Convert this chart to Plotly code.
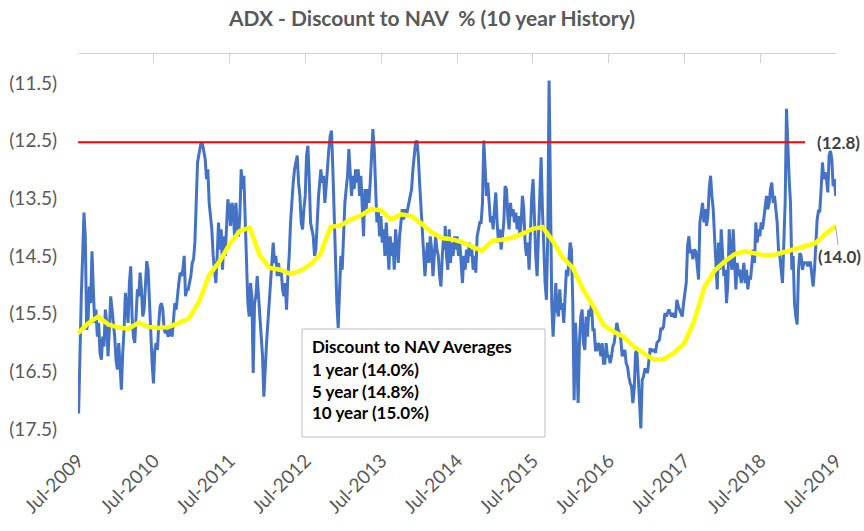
import pandas as pd
import plotly.graph_objects as go

# ---- data (discount to NAV, %; shown in parentheses) ----
seg1_start, seg1_end = "2009-07-04", "2011-01-28"
seg1 = [17.23, 16.07, 15.20, 14.50, 13.75, 14.16, 15.78, 15.66, 15.03, 15.32,
        14.42, 15.08, 15.66, 15.43, 15.90, 15.66, 16.18, 16.30, 15.90, 16.07,
        15.43, 15.66, 16.24, 15.78, 15.20, 15.43, 15.66, 15.90, 16.30, 16.47,
        16.01, 16.36, 16.82, 16.18, 15.78, 15.14, 15.43, 15.66, 14.97, 14.68,
        15.55, 15.90, 16.01, 15.55, 15.08, 15.20, 14.79, 15.08, 15.55, 15.43,
        14.85, 14.59, 14.74, 15.32, 15.78, 16.36, 16.71, 16.13, 16.01, 16.13,
        15.66, 15.37, 15.32, 15.43, 15.78, 15.84, 15.78, 15.90, 15.84, 15.72,
        15.90, 15.55, 15.32, 15.43, 15.14, 14.97, 14.79, 14.85, 14.74, 14.50,
        15.20, 15.08, 15.08, 14.97, 14.85, 14.62, 14.56, 14.27, 13.58, 12.88]
seg2_start, seg2_end = "2011-02-08", "2012-09-02"
seg2 = [12.65, 12.53, 12.56, 12.68, 12.82, 13.17, 13.00, 13.58, 13.81, 14.04,
        14.50, 14.74, 14.97, 14.50, 13.92, 14.39, 14.04, 14.74, 14.16, 14.50,
        13.87, 13.52, 13.69, 13.98, 13.58, 13.69, 14.16, 13.58, 13.92, 14.16,
        13.81, 13.00, 13.34, 13.11, 13.87, 14.50, 15.32, 15.55, 14.97, 15.20,
        16.53, 15.32, 15.20, 14.85, 15.20, 15.43, 15.90, 16.24, 16.94, 16.36,
        16.01, 15.66, 15.32, 14.97, 14.50, 14.27, 14.62, 14.50, 14.85, 14.62,
        14.85, 14.74, 15.08, 15.20, 14.97, 15.43, 14.85, 14.50, 13.92, 13.46,
        13.23, 13.00, 12.88, 12.76, 13.23, 13.46, 13.92, 14.04, 13.69, 13.46,
        12.76, 12.59, 13.17, 13.92, 14.04, 14.16, 14.50, 14.39, 13.92, 13.46]
seg3_start, seg3_end = "2012-09-13", "2014-05-04"
seg3 = [13.00, 13.23, 13.11, 13.58, 13.29, 12.88, 12.65, 12.42, 12.33, 13.00,
        13.92, 14.62, 15.32, 15.75, 15.20, 14.50, 14.74, 14.04, 13.58, 13.34,
        13.11, 12.65, 13.00, 13.46, 13.11, 13.34, 13.00, 13.23, 13.00, 13.46,
        13.11, 13.81, 14.16, 13.34, 13.69, 13.34, 13.58, 13.23, 12.65, 12.30,
        12.65, 13.23, 13.92, 13.69, 14.16, 13.81, 14.27, 14.04, 14.50, 13.92,
        14.39, 14.74, 14.16, 14.50, 14.27, 14.74, 14.04, 14.39, 14.62, 14.16,
        13.92, 13.69, 13.87, 13.69, 13.81, 13.69, 13.58, 13.46, 13.34, 13.00,
        12.76, 12.53, 12.50, 12.76, 13.23, 13.69, 14.16, 14.62, 14.85, 14.50,
        14.27, 14.62, 14.16, 14.39, 14.85, 14.50, 14.16, 14.39, 14.50, 14.85,
        15.03, 14.50, 14.16, 14.39]
seg4_start, seg4_end = "2014-05-05", "2015-12-23"
seg4 = [13.98, 14.50, 14.74, 14.04, 14.62, 14.27, 14.50, 14.16, 14.39, 14.16,
        14.50, 14.27, 14.74, 14.97, 14.50, 14.74, 14.39, 14.62, 14.27, 14.50,
        14.39, 14.74, 14.50, 14.79, 14.16, 14.04, 13.92, 13.92, 13.58, 12.50,
        13.11, 13.46, 13.23, 13.69, 13.92, 13.81, 14.04, 13.69, 13.40, 13.92,
        14.27, 14.04, 14.39, 14.16, 13.92, 13.29, 13.34, 13.81, 14.04, 13.58,
        13.81, 13.69, 13.92, 13.75, 14.04, 13.81, 14.16, 13.92, 13.46, 13.69,
        14.27, 14.50, 14.27, 14.74, 14.04, 13.46, 13.17, 13.92, 14.50, 14.85,
        14.16, 13.11, 12.79, 13.69, 14.50, 14.97, 15.26, 14.16, 11.46, 13.87,
        15.32, 15.90, 15.32, 14.97, 15.43, 15.55, 15.08, 15.43, 15.32, 15.66,
        15.20, 14.74, 14.85, 14.39]
seg5_start, seg5_end = "2015-12-28", "2017-08-17"
seg5 = [14.27, 14.39, 15.32, 17.00, 15.66, 16.18, 17.05, 16.01, 15.55, 15.43,
        16.01, 16.13, 15.55, 15.90, 15.43, 15.55, 15.32, 15.78, 15.78, 16.13,
        16.13, 16.01, 16.07, 16.24, 16.01, 16.36, 16.36, 16.01, 16.24, 16.24,
        16.36, 16.24, 16.07, 16.01, 15.84, 15.66, 15.78, 15.84, 15.95, 16.24,
        16.18, 16.13, 16.36, 16.42, 16.59, 16.71, 16.76, 17.05, 16.82, 16.18,
        16.13, 16.59, 17.17, 17.49, 16.65, 16.59, 16.47, 16.47, 16.53, 16.30,
        16.10, 16.16, 16.13, 16.13, 16.18, 16.01, 15.98, 15.95, 15.75, 15.78,
        15.72, 15.49, 15.55, 15.49, 15.43, 15.49, 15.55, 15.49, 15.55, 15.55,
        15.26, 15.37, 15.43, 15.49, 15.55, 15.32, 15.14, 14.97, 14.33, 14.16,
        14.45, 14.39, 14.56, 14.39]
seg6_start, seg6_end = "2017-08-25", "2019-06-30"
seg6 = [14.42, 14.68, 14.91, 13.92, 13.69, 13.58, 13.92, 13.69, 13.98, 13.81,
        13.34, 13.11, 13.46, 13.69, 14.16, 14.62, 15.08, 14.27, 14.74, 14.04,
        14.50, 14.85, 14.74, 15.32, 14.97, 14.04, 14.50, 14.74, 14.04, 14.50,
        15.08, 14.62, 14.85, 14.74, 14.97, 14.85, 14.62, 14.97, 14.74, 15.08,
        14.85, 14.91, 14.68, 14.39, 14.62, 13.92, 14.27, 14.04, 14.16, 13.92,
        14.04, 13.81, 13.69, 13.46, 13.69, 13.58, 13.34, 13.23, 13.58, 13.46,
        13.69, 13.92, 14.39, 14.50, 14.74, 14.97, 14.27, 13.58, 11.95, 12.71,
        13.17, 13.58, 14.74, 14.50, 15.32, 15.55, 15.69, 14.74, 14.45, 14.50,
        14.74, 14.62, 14.62, 14.62, 14.68, 14.62, 14.62, 14.85, 15.03, 14.74,
        14.16, 13.87, 13.72, 13.72, 13.34, 12.88, 13.17, 13.05, 13.17, 13.40,
        12.76, 12.68, 12.82, 13.29, 13.17, 13.46]

avg_start, avg_end = "2009-07-01", "2019-06-29"
moving_avg = [15.84, 15.67, 15.55, 15.69, 15.74, 15.76, 15.66, 15.73, 15.75, 15.73,
              15.66, 15.58, 15.29, 14.83, 14.60, 14.30, 14.07, 14.01, 14.49, 14.71,
              14.74, 14.81, 14.76, 14.65, 14.47, 14.00, 13.97, 13.87, 13.80, 13.69,
              13.71, 13.87, 13.78, 13.81, 13.94, 14.09, 14.19, 14.21, 14.26, 14.33,
              14.41, 14.24, 14.22, 14.18, 14.12, 14.03, 14.00, 14.24, 14.53, 14.71,
              15.08, 15.37, 15.69, 15.81, 15.90, 16.07, 16.18, 16.30, 16.29, 16.18,
              16.02, 15.63, 15.05, 14.76, 14.60, 14.47, 14.42, 14.46, 14.49, 14.48,
              14.43, 14.36, 14.33, 14.28, 14.12, 13.98]

high_dates = ["2009-07-01", "2019-02-02"]
high_level = [12.53, 12.53]
high_label = "(12.8)"
avg_label = "(14.0)"

y_ticks = [11.5, 12.5, 13.5, 14.5, 15.5, 16.5, 17.5]
y_ticktext = ["(11.5)", "(12.5)", "(13.5)", "(14.5)", "(15.5)", "(16.5)", "(17.5)"]
x_range = ["2009-07-01", "2019-07-01"]

box_lines = ["Discount to NAV Averages", "1 year (14.0%)", "5 year (14.8%)", "10 year (15.0%)"]

# ---- build series ----
segments = [(seg1_start, seg1_end, seg1), (seg2_start, seg2_end, seg2),
            (seg3_start, seg3_end, seg3), (seg4_start, seg4_end, seg4),
            (seg5_start, seg5_end, seg5), (seg6_start, seg6_end, seg6)]
blue_x, blue_y = [], []
for s, e, vals in segments:
    blue_x += list(pd.date_range(s, e, periods=len(vals)))
    blue_y += vals
avg_x = list(pd.date_range(avg_start, avg_end, periods=len(moving_avg)))

FONT = "Lato"
GREY = "#595959"

fig = go.Figure()
fig.add_trace(go.Scatter(x=blue_x, y=blue_y, mode="lines",
                         line=dict(color="#4472C4", width=3), hoverinfo="skip"))
fig.add_trace(go.Scatter(x=high_dates, y=high_level, mode="lines", xaxis="x2",
                         line=dict(color="#FF0000", width=2), hoverinfo="skip"))
fig.add_trace(go.Scatter(x=avg_x, y=moving_avg, mode="lines",
                         line=dict(color="#FFFF00", width=4.5), hoverinfo="skip"))

fig.update_layout(
    width=864, height=531,
    margin=dict(l=78, r=28, t=54, b=102, autoexpand=False),
    paper_bgcolor="white", plot_bgcolor="white",
    showlegend=False,
    font=dict(family=FONT, color=GREY),
    title=dict(text="ADX - Discount to NAV\u00a0 % (10 year History)",
               x=0.5, xanchor="center", y=1 - 19 / 531, yanchor="middle",
               font=dict(family=FONT, size=21, color=GREY, weight="bold")),
    xaxis=dict(type="date", range=x_range, tick0="2009-07-01", dtick="M12",
               tickformat="%b-%Y", tickangle=-45, showgrid=False, zeroline=False,
               showline=False, ticks="", ticklabelstandoff=16, automargin=False,
               tickfont=dict(family=FONT, size=19, color=GREY)),
    xaxis2=dict(type="date", overlaying="x", matches="x", side="top", anchor="y",
                tick0="2009-07-01", dtick="M12", showline=True, linecolor="#d0d0d0",
                linewidth=1, ticks="inside", ticklen=9, tickcolor="#d0d0d0",
                tickwidth=1, showticklabels=False, showgrid=False, zeroline=False,
                automargin=False),
    yaxis=dict(range=[17.5, 11], tickvals=y_ticks, ticktext=y_ticktext,
               showgrid=False, zeroline=False, showline=False, ticks="",
               ticklabelstandoff=20, automargin=False,
               tickfont=dict(family=FONT, size=19, color=GREY)),
)

# averages text box
fig.add_shape(type="rect", xref="paper", yref="paper",
              x0=224 / 758, x1=467 / 758, y0=-8 / 375, y1=100 / 375,
              line=dict(color="#bfbfbf", width=1), fillcolor="white", layer="above")
line_y = [83 / 375, 59.7 / 375, 37.3 / 375, 16.3 / 375]
for txt, yy in zip(box_lines, line_y):
    fig.add_annotation(text=txt, xref="paper", yref="paper", x=232 / 758, y=yy,
                       xanchor="left", yanchor="middle", showarrow=False,
                       font=dict(family=FONT, size=17, color="#000000", weight="bold"))

# end labels
fig.add_annotation(text=high_label, x=high_dates[-1], y=high_level[-1], xref="x2", yref="y",
                   xanchor="left", yanchor="middle", xshift=10, showarrow=False,
                   font=dict(family=FONT, size=17, color="#404040", weight="bold"))
fig.add_annotation(text=avg_label, x=avg_x[-1], y=moving_avg[-1], xref="x", yref="y",
                   showarrow=True, arrowhead=0, arrowwidth=1, arrowcolor="#a6a6a6",
                   ax=4, ay=31, standoff=0,
                   font=dict(family=FONT, size=17, color="#404040", weight="bold"))

fig.write_html("out.html", config={"displayModeBar": False},
               post_script="document.body.style.margin='0px';document.body.style.padding='0px';")
